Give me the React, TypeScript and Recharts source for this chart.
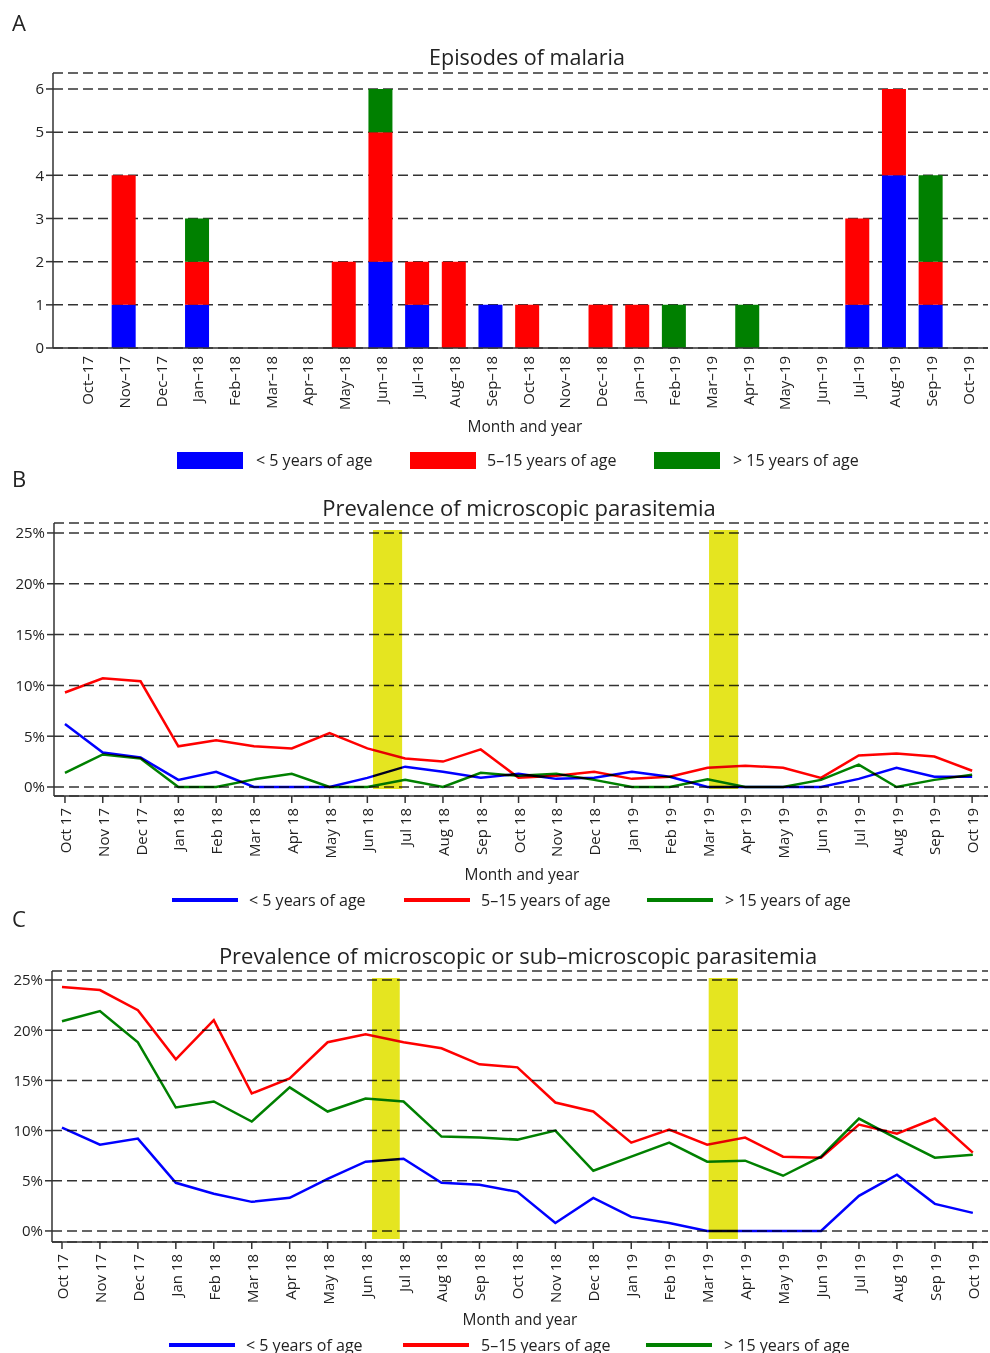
import React from "react";
import {
  BarChart,
  Bar,
  LineChart,
  Line,
  XAxis,
  YAxis,
  CartesianGrid,
  ReferenceArea,
} from "recharts";

// panel A month labels (en dash)
const MONTHS_A = [
  "Oct–17", "Nov–17", "Dec–17", "Jan–18", "Feb–18", "Mar–18", "Apr–18", "May–18",
  "Jun–18", "Jul–18", "Aug–18", "Sep–18", "Oct–18", "Nov–18", "Dec–18", "Jan–19",
  "Feb–19", "Mar–19", "Apr–19", "May–19", "Jun–19", "Jul–19", "Aug–19", "Sep–19", "Oct–19",
];

// panel B / C month labels
const MONTHS = [
  "Oct 17", "Nov 17", "Dec 17", "Jan 18", "Feb 18", "Mar 18", "Apr 18", "May 18",
  "Jun 18", "Jul 18", "Aug 18", "Sep 18", "Oct 18", "Nov 18", "Dec 18", "Jan 19",
  "Feb 19", "Mar 19", "Apr 19", "May 19", "Jun 19", "Jul 19", "Aug 19", "Sep 19", "Oct 19",
];

// A: episodes of malaria
const episodesUnder5 = [0, 1, 0, 1, 0, 0, 0, 0, 2, 1, 0, 1, 0, 0, 0, 0, 0, 0, 0, 0, 0, 1, 4, 1, 0];
const episodes5to15 = [0, 3, 0, 1, 0, 0, 0, 2, 3, 1, 2, 0, 1, 0, 1, 1, 0, 0, 0, 0, 0, 2, 2, 1, 0];
const episodesOver15 = [0, 0, 0, 1, 0, 0, 0, 0, 1, 0, 0, 0, 0, 0, 0, 0, 1, 0, 1, 0, 0, 0, 0, 2, 0];

// B: microscopic parasitemia (%)
const microUnder5 = [6.2, 3.4, 2.9, 0.7, 1.5, 0, 0, 0, 0.9, 2.0, 1.5, 0.9, 1.3, 0.8, 0.9, 1.5, 1.0, 0, 0, 0, 0, 0.8, 1.9, 1.0, 1.0];
const micro5to15 = [9.3, 10.7, 10.4, 4.0, 4.6, 4.0, 3.8, 5.3, 3.8, 2.8, 2.5, 3.7, 0.9, 1.1, 1.5, 0.8, 1.0, 1.9, 2.1, 1.9, 0.9, 3.1, 3.3, 3.0, 1.6];
const microOver15 = [1.4, 3.2, 2.8, 0, 0, 0.75, 1.3, 0, 0, 0.7, 0, 1.4, 1.1, 1.3, 0.7, 0, 0, 0.75, 0, 0, 0.7, 2.2, 0, 0.7, 1.2];

// C: microscopic or sub-microscopic parasitemia (%)
const anyUnder5 = [10.3, 8.6, 9.2, 4.8, 3.7, 2.9, 3.3, 5.2, 6.9, 7.2, 4.8, 4.6, 3.9, 0.8, 3.3, 1.4, 0.8, 0, 0, 0, 0, 3.5, 5.6, 2.7, 1.8];
const any5to15 = [24.3, 24.0, 22.0, 17.1, 21.0, 13.7, 15.2, 18.8, 19.6, 18.8, 18.2, 16.6, 16.3, 12.8, 11.9, 8.8, 10.1, 8.6, 9.3, 7.4, 7.3, 10.6, 9.7, 11.2, 7.8];
const anyOver15 = [20.9, 21.9, 18.8, 12.3, 12.9, 10.9, 14.3, 11.9, 13.2, 12.9, 9.4, 9.3, 9.1, 10.0, 6.0, 7.4, 8.8, 6.9, 7.0, 5.5, 7.4, 11.2, 9.2, 7.3, 7.6];

const PCT_TICKS = [0, 5, 10, 15, 20, 25];
const COUNT_TICKS = [0, 1, 2, 3, 4, 5, 6];
const MONTH_IDX = MONTHS.map((_, i) => i);

const BLUE = "#0000ff";
const RED = "#ff0000";
const GREEN = "#008000";
const YELLOW = "#e5e520";
const AXIS = "#333333";
const TEXT = "#222222";
const FONT = "'Open Sans', sans-serif";

const barData = MONTHS_A.map((m, i) => ({
  month: m,
  under5: episodesUnder5[i],
  mid: episodes5to15[i],
  over15: episodesOver15[i],
}));

const microData = MONTHS.map((m, i) => ({
  idx: i,
  under5: microUnder5[i],
  mid: micro5to15[i],
  over15: microOver15[i],
}));

const anyData = MONTHS.map((m, i) => ({
  idx: i,
  under5: anyUnder5[i],
  mid: any5to15[i],
  over15: anyOver15[i],
}));

function RotTick({ x, y, payload, labels, dy }: any) {
  const label = labels ? labels[payload.value] : payload.value;
  const ty = y + dy;
  return (
    <text
      x={x}
      y={ty}
      transform={`rotate(-90 ${x} ${ty})`}
      textAnchor="end"
      dominantBaseline="central"
      fill={TEXT}
      fontSize={15}
      fontFamily={FONT}
    >
      {label}
    </text>
  );
}

function Abs({ left, top, center, size, children }: any) {
  return (
    <div
      style={{
        position: "absolute",
        left,
        top,
        transform: center ? "translate(-50%, -50%)" : "translateY(-50%)",
        fontSize: size,
        fontFamily: FONT,
        color: TEXT,
        whiteSpace: "nowrap",
        lineHeight: 1,
      }}
    >
      {children}
    </div>
  );
}

function LegendRow({ top, items, kind }: any) {
  return (
    <>
      {items.map((it: any) => (
        <React.Fragment key={it.label}>
          <div
            style={{
              position: "absolute",
              left: it.x,
              top: kind === "box" ? top - 8 : top - 2,
              width: 66,
              height: kind === "box" ? 17 : 4,
              background: it.color,
            }}
          />
          <Abs left={it.tx} top={top} size={16}>
            {it.label}
          </Abs>
        </React.Fragment>
      ))}
    </>
  );
}

function PrevalenceChart({ data, top, height, margin, yDomain, xDomain, bands }: any) {
  return (
    <div style={{ position: "absolute", left: 0, top }}>
      <LineChart width={990} height={height} data={data} margin={margin}>
        <CartesianGrid vertical={false} stroke={AXIS} strokeWidth={1.5} strokeDasharray="10 5" />
        <XAxis
          dataKey="idx"
          type="number"
          domain={xDomain}
          ticks={MONTH_IDX}
          allowDataOverflow
          height={30}
          stroke={AXIS}
          strokeWidth={1.5}
          tickSize={7}
          tick={<RotTick labels={MONTHS} dy={3} />}
        />
        <YAxis
          type="number"
          domain={yDomain}
          ticks={PCT_TICKS}
          allowDataOverflow
          width={45}
          stroke={AXIS}
          strokeWidth={1.5}
          tickSize={7}
          tickFormatter={(v) => `${v}%`}
          tick={{ fill: TEXT, fontSize: 15, fontFamily: FONT }}
        />
        <Line dataKey="under5" stroke={BLUE} strokeWidth={2.5} dot={false} isAnimationActive={false} />
        <Line dataKey="mid" stroke={RED} strokeWidth={2.5} dot={false} isAnimationActive={false} />
        <Line dataKey="over15" stroke={GREEN} strokeWidth={2.5} dot={false} isAnimationActive={false} />
        {bands.map((b: number[], i: number) => (
          <ReferenceArea
            key={i}
            x1={b[0]}
            x2={b[1]}
            y1={b[2]}
            y2={b[3]}
            fill={YELLOW}
            fillOpacity={1}
            stroke="none"
            className="blend-area"
          />
        ))}
      </LineChart>
    </div>
  );
}

export default function App() {
  const legendBoxes = [
    { x: 177, tx: 256, color: BLUE, label: "< 5 years of age" },
    { x: 410, tx: 487, color: RED, label: "5–15 years of age" },
    { x: 654, tx: 733, color: GREEN, label: "> 15 years of age" },
  ];
  const legendB = [
    { x: 172, tx: 249, color: BLUE, label: "< 5 years of age" },
    { x: 404, tx: 481, color: RED, label: "5–15 years of age" },
    { x: 647, tx: 725, color: GREEN, label: "> 15 years of age" },
  ];
  const legendC = [
    { x: 169, tx: 246, color: BLUE, label: "< 5 years of age" },
    { x: 403, tx: 481, color: RED, label: "5–15 years of age" },
    { x: 646, tx: 724, color: GREEN, label: "> 15 years of age" },
  ];

  return (
    <div
      style={{
        position: "absolute",
        left: 0,
        top: 0,
        width: 990,
        height: 1353,
        background: "#fff",
        overflow: "hidden",
      }}
    >
      <style>{`
        .recharts-line-curve { mix-blend-mode: multiply; }
        .blend-area, .blend-area rect, .recharts-reference-area-rect { mix-blend-mode: multiply; }
      `}</style>

      {/* Panel A */}
      <Abs left={12} top={22} size={22}>A</Abs>
      <Abs left={527} top={57} size={21.5} center>Episodes of malaria</Abs>
      <div style={{ position: "absolute", left: 0, top: 0 }}>
        <BarChart
          width={990}
          height={420}
          data={barData}
          margin={{ top: 73, right: 2, left: 8, bottom: 42 }}
          barSize={24}
        >
          <CartesianGrid vertical={false} stroke={AXIS} strokeWidth={1.5} strokeDasharray="10 5" />
          <XAxis
            dataKey="month"
            height={30}
            stroke={AXIS}
            strokeWidth={1.5}
            tickLine={false}
            tickSize={0}
            padding={{ left: 16, right: 2 }}
            interval={0}
            tick={<RotTick dy={6} />}
          />
          <YAxis
            domain={[0, 6.37]}
            ticks={COUNT_TICKS}
            allowDataOverflow
            width={45}
            stroke={AXIS}
            strokeWidth={1.5}
            tickSize={7}
            tick={{ fill: TEXT, fontSize: 15, fontFamily: FONT }}
          />
          <Bar dataKey="under5" stackId="a" fill={BLUE} isAnimationActive={false} />
          <Bar dataKey="mid" stackId="a" fill={RED} isAnimationActive={false} />
          <Bar dataKey="over15" stackId="a" fill={GREEN} isAnimationActive={false} />
        </BarChart>
      </div>
      <Abs left={525} top={427} size={15.5} center>Month and year</Abs>
      <LegendRow top={460} items={legendBoxes} kind="box" />

      {/* Panel B */}
      <Abs left={12} top={478} size={22}>B</Abs>
      <Abs left={519} top={507} size={22} center>Prevalence of microscopic parasitemia</Abs>
      <PrevalenceChart
        data={microData}
        top={480}
        height={400}
        margin={{ top: 43, right: 2, left: 9, bottom: 54 }}
        yDomain={[-0.886, 25.98]}
        xDomain={[-0.29, 24.42]}
        bands={[
          [8.15, 8.92, -0.2, 25.3],
          [17.04, 17.81, -0.2, 25.3],
        ]}
      />
      <Abs left={522} top={875} size={15.5} center>Month and year</Abs>
      <LegendRow top={900} items={legendB} kind="line" />

      {/* Panel C */}
      <Abs left={12} top={918} size={22}>C</Abs>
      <Abs left={518} top={955} size={22} center>
        Prevalence of microscopic or sub–microscopic parasitemia
      </Abs>
      <PrevalenceChart
        data={anyData}
        top={920}
        height={420}
        margin={{ top: 51, right: 2, left: 7, bottom: 68 }}
        yDomain={[-1.1, 25.9]}
        xDomain={[-0.263, 24.4]}
        bands={[
          [8.17, 8.9, -0.8, 25.2],
          [17.04, 17.81, -0.8, 25.2],
        ]}
      />
      <Abs left={520} top={1320} size={15.5} center>Month and year</Abs>
      <LegendRow top={1345} items={legendC} kind="line" />
    </div>
  );
}
